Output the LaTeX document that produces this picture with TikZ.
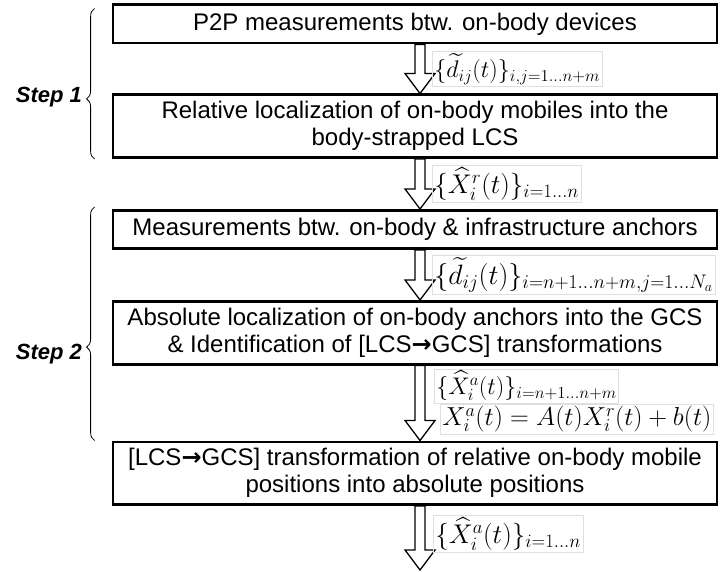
\RequirePackage{fix-cm}
\documentclass[tikz,border=0pt]{standalone}
\usepackage{amsmath}
\usepackage[no-math]{fontspec}
\usepackage{tikz}
\usetikzlibrary{arrows.meta,positioning,calc,decorations.pathreplacing}

\newfontfamily\boxtxt{Liberation Sans}
\newfontfamily\arrtxt{DejaVu Sans}
\newcommand\boxfont{\boxtxt\fontsize{24}{27}\selectfont}
\newcommand\lcsgcs{[LCS{\arrtxt\bfseries\fontsize{24}{27}\selectfont →}GCS]}
% hollow block arrow from one anchor down to another
\newcommand\blockarrow[2]{\draw[harrow] let \p1=(#1), \p2=(#2) in
  (\x1-5pt,\y1) -- (\x1-5pt,\y2+20pt) -- (\x1-15pt,\y2+20pt) -- (\x2,\y2)
  -- (\x1+15pt,\y2+20pt) -- (\x1+5pt,\y2+20pt) -- (\x1+5pt,\y1) -- cycle;}

\begin{document}
\begin{tikzpicture}[
  x=1pt, y=1pt,
  node distance=50pt,
  box/.style={draw, line width=2.8pt, font=\boxfont, align=center, minimum width=604pt, minimum height=38.2pt, inner sep=0pt},
  tall/.style={box, minimum height=62.7pt},
  harrow/.style={draw, line width=1.3pt, fill=white, line join=miter},
  lab/.style={draw=gray!25, line width=0.8pt, anchor=west, inner sep=2pt, font=\fontsize{#1}{#1}\selectfont},
  lab/.default=25,
  stepbrace/.style={decorate, decoration={brace, amplitude=8pt, aspect=0.4}, line width=0.8pt},
  steplabel/.style={font=\boxtxt\fontsize{22}{26}\selectfont\bfseries\itshape, anchor=east, xshift=-9pt}
]
\useasboundingbox (0,0) rectangle (720,-572);

\node[box] (meas) at (415,-24) {P2P measurements btw. on-body devices};
\node[tall, below=49pt of meas] (rel) {Relative localization of on-body mobiles into the\\body-strapped LCS};
\node[box, below=of rel] (infra) {Measurements btw. on-body \& infrastructure anchors};
\node[tall, below=of infra] (abs) {Absolute localization of on-body anchors into the GCS\\\& Identification of \lcsgcs{} transformations};
\node[tall, below=75pt of abs] (trans) {\lcsgcs{} transformation of relative on-body mobile\\positions into absolute positions};
\coordinate[below=64pt of trans] (out);

% arrows between the steps
\blockarrow{[xshift=5pt]meas.south}{[xshift=5pt]rel.north}
\blockarrow{[xshift=5pt]rel.south}{[xshift=5pt]infra.north}
\blockarrow{[xshift=5pt]infra.south}{[xshift=5pt]abs.north}
\blockarrow{[xshift=5pt]abs.south}{[xshift=5pt]trans.north}
\blockarrow{[xshift=5pt]trans.south}{[xshift=5pt]out}

\coordinate (m1) at ($(meas.south)!0.5!(rel.north)$);
\coordinate (m2) at ($(rel.south)!0.5!(infra.north)$);
\coordinate (m3) at ($(infra.south)!0.5!(abs.north)$);
\coordinate (m4) at ($(abs.south)!0.5!(trans.north)$);
\coordinate (m5) at ($(trans.south)!0.5!(out)$);

\node[lab=24] (l1) at ([xshift=17pt]m1) {$\{\widetilde{d}_{ij}(t)\}_{i,j=1\dots n+m}$};
\node[lab=27] (l2) at ([xshift=17pt]m2) {$\{\widehat{X}_i^r(t)\}_{i=1\dots n}$};
\node[lab=28] (l3) at ([xshift=17pt]m3) {$\{\widetilde{d}_{ij}(t)\}_{i=n+1\dots n+m,j=1\dots N_a}$};
\node[lab=24] (l4) at ([xshift=19pt,yshift=17pt]m4) {$\{\widehat{X}_i^a(t)\}_{i=n+1\dots n+m}$};
\node[lab=26] (l5) at ([xshift=25pt,yshift=-16pt]m4) {$X_i^a(t)=A(t)X_i^r(t)+b(t)$};
\node[lab=27] (l6) at ([xshift=18pt,yshift=4pt]m5) {$\{\widehat{X}_i^a(t)\}_{i=1\dots n}$};

% steps
\draw[stepbrace] ($(rel.south west)+(-17,0)$) -- ($(meas.north west)+(-17,-5)$)
  node[steplabel, pos=0.41] (s1) {Step 1};
\draw[stepbrace] ($(trans.north west)+(-17,0)$) -- ($(infra.north west)+(-17,2)$)
  node[steplabel, pos=0.37] (s2) {Step 2};
\end{tikzpicture}
\end{document}
